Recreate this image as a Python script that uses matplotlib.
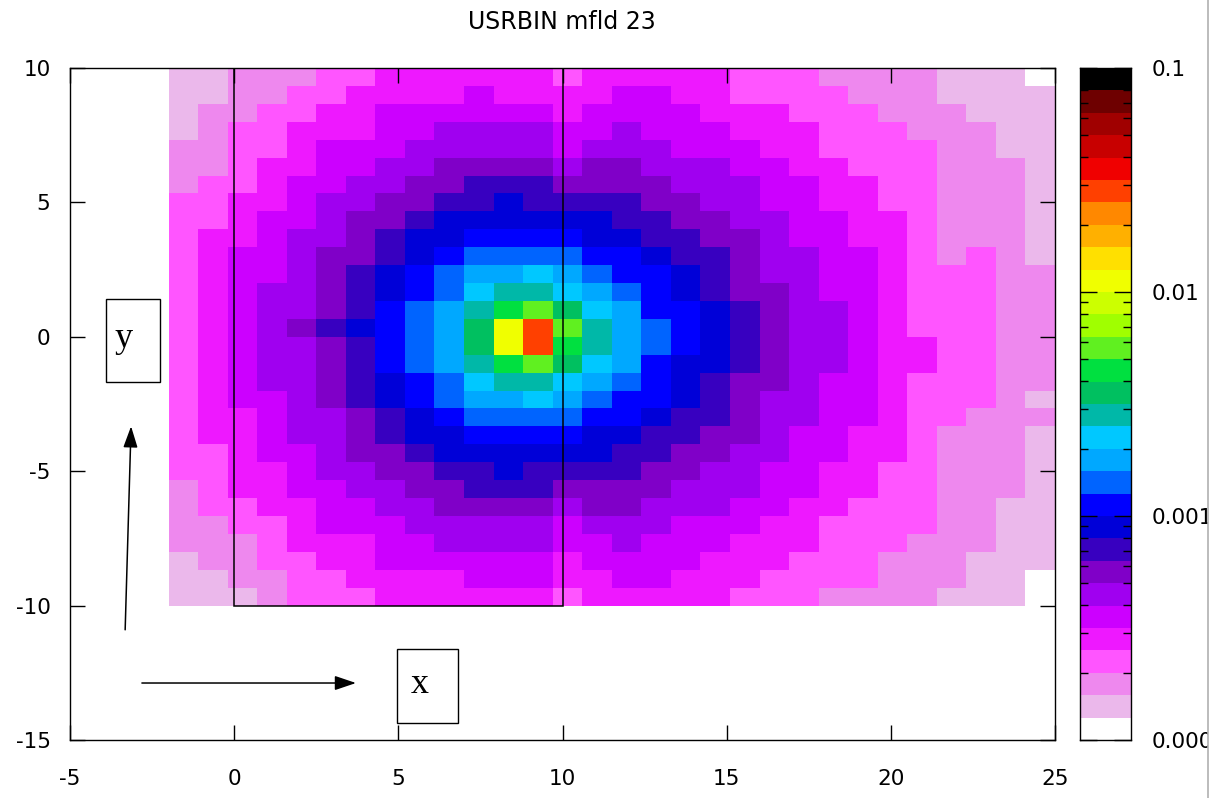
import numpy as np
import matplotlib
matplotlib.use("Agg")
import matplotlib.pyplot as plt
from matplotlib.colors import ListedColormap, BoundaryNorm
from matplotlib.patches import Rectangle
from matplotlib.lines import Line2D
from matplotlib.ticker import LogLocator, FixedLocator, NullFormatter

plt.rcParams['font.family'] = 'DejaVu Sans'
plt.rcParams['axes.unicode_minus'] = False

# USRBIN binning (cm)
x_lo, x_hi, nx = -2.0, 25.0, 30
y_lo, y_hi, ny = -10.0, 10.0, 30

# colour band of each bin, 0 = below scale; rows run from y=+10 down to y=-10
level = [
    [1,1,2,2,2,3,3,4,4,4, 4,4,4,3,4,4,4,4,4,3, 3,3,2,2,2,2,1,1,1,0],
    [1,1,2,2,3,3,4,4,4,4, 5,4,4,4,4,5,5,4,4,3, 3,3,3,2,2,2,1,1,1,1],
    [1,2,2,3,3,4,4,5,5,5, 5,5,5,4,5,5,5,5,4,4, 4,3,3,3,2,2,2,1,1,1],
    [1,2,3,3,4,4,4,5,5,6, 6,6,6,5,5,6,5,5,5,4, 4,4,3,3,3,2,2,2,1,1],
    [2,2,3,3,4,5,5,5,6,6, 6,6,6,5,6,6,6,5,5,5, 4,4,3,3,3,3,2,2,1,1],
    [2,2,3,4,4,5,5,6,6,7, 7,7,7,6,7,7,6,6,6,5, 5,4,4,3,3,3,2,2,2,1],
    [2,3,3,4,5,5,6,6,7,7, 8,8,8,7,7,7,7,6,6,6, 5,5,4,4,3,3,2,2,2,1],
    [3,3,4,4,5,6,6,7,7,8, 8,9,8,8,8,8,7,7,6,6, 5,5,4,4,3,3,2,2,2,1],
    [3,3,4,5,5,6,7,7,8,9, 9,9,9,9,9,8,8,7,7,6, 6,5,5,4,4,3,2,2,2,1],
    [3,4,4,5,6,6,7,8,9,9, 10,10,10,10,9,9,8,8,7,7, 6,5,5,4,4,3,2,2,2,1],
    [3,4,5,5,6,7,7,8,9,10, 11,11,11,11,10,10,9,8,8,7, 6,6,5,5,4,3,2,3,2,1],
    [3,4,5,5,6,7,8,9,10,11, 12,12,13,12,11,10,10,9,8,7, 6,6,5,5,4,3,3,3,2,2],
    [3,4,5,6,6,7,8,9,10,11, 13,14,14,13,12,11,10,9,8,7, 7,6,5,5,4,3,3,3,2,2],
    [3,4,5,6,6,7,8,10,11,12, 14,16,17,15,13,12,10,10,9,8, 7,6,6,5,4,3,3,3,2,2],
    [3,4,5,6,7,8,9,10,11,12, 15,20,24,17,14,12,11,10,9,8, 7,6,6,5,4,3,3,3,2,2],
    [3,4,5,6,6,7,8,10,11,12, 15,20,24,16,14,12,11,10,9,8, 7,6,6,5,4,4,3,3,2,2],
    [3,4,5,6,6,7,8,10,11,12, 14,16,17,15,13,12,10,9,9,8, 7,6,6,5,4,4,3,3,2,2],
    [3,4,5,6,6,7,8,9,10,11, 13,14,14,13,12,11,10,9,8,7, 7,6,5,5,4,3,3,3,2,2],
    [3,4,5,5,6,7,8,9,10,11, 12,12,13,12,11,10,10,9,8,7, 6,6,5,5,4,3,3,3,2,1],
    [3,4,4,5,6,6,7,8,9,10, 11,11,11,11,10,10,9,8,8,7, 6,6,5,5,4,3,3,2,2,2],
    [3,4,4,5,6,6,7,8,9,9, 10,10,10,10,9,9,8,8,7,7, 6,5,5,4,4,3,2,2,2,1],
    [3,3,4,5,5,6,7,7,8,9, 9,9,9,9,9,8,8,7,7,6, 6,5,5,4,4,3,2,2,2,1],
    [3,3,4,4,5,6,6,7,7,8, 8,9,8,8,8,8,7,7,6,6, 5,5,4,4,3,3,2,2,2,1],
    [2,3,4,4,5,5,6,6,7,7, 8,8,8,7,7,7,7,6,6,6, 5,5,4,4,3,3,2,2,2,1],
    [2,3,3,4,4,5,5,6,6,7, 7,7,7,6,7,7,6,6,6,5, 5,4,4,3,3,3,2,2,1,1],
    [2,2,3,3,4,5,5,5,6,6, 6,6,6,5,6,6,6,5,5,5, 4,4,3,3,3,3,2,2,1,1],
    [2,2,2,3,4,4,4,5,5,6, 6,6,6,5,5,6,5,5,5,4, 4,4,3,3,3,2,2,2,1,1],
    [1,2,2,3,3,4,4,5,5,5, 5,5,5,4,5,5,5,5,4,4, 4,3,3,3,2,2,2,1,1,1],
    [1,1,2,2,3,3,4,4,4,4, 5,5,5,4,4,5,5,4,4,4, 3,3,3,3,2,2,2,1,1,0],
    [1,1,1,2,3,3,3,4,4,4, 4,4,4,3,4,4,4,4,4,3, 3,3,2,2,2,2,1,1,1,0],
]

# flair-like palette, 10 bands per decade from 1e-4 to 1e-1
palette = ['#ffffff', '#ebb8eb', '#ee88ee', '#ff55ff', '#ee18ff', '#cc00ff',
           '#a000f0', '#8000c8', '#3800c0', '#0000d8', '#0000ff', '#0064ff',
           '#00a8ff', '#00c8ff', '#00b8a8', '#00c060', '#00e040', '#60f020',
           '#a0ff00', '#ccff00', '#f0ff00', '#ffe000', '#ffb000', '#ff8800',
           '#ff4000', '#f00000', '#c80000', '#a00000', '#6e0000', '#000000']
decade_lo, decade_hi = -4, -1
cbar_ticks = [1e-4, 1e-3, 1e-2, 1e-1]
cbar_labels = ['0.0001', '0.001', '0.01', '0.1']

title = 'USRBIN mfld 23'

# target outline and axis sketch
box_x0, box_x1, box_y0, box_y1 = 0.0, 10.0, -10.0, 10.0
ylab_box = (-3.90, -1.68, 1.64, 3.09)   # x, y, width, height
xlab_box = (4.96, -14.37, 1.86, 2.76)
yarrow = ((-3.32, -10.9), (-3.14, -3.33))
xarrow = ((-2.81, -12.88), (3.71, -12.88))

nband = len(palette)
bounds = np.logspace(decade_lo, decade_hi, nband + 1)
cmap = ListedColormap(palette)
norm = BoundaryNorm(bounds, nband)

# bin value taken at the centre of its colour band
lv = np.array(level, dtype=float)
dose = 10.0 ** (decade_lo + (lv + 0.5) * (decade_hi - decade_lo) / nband)

xe = np.linspace(x_lo, x_hi, nx + 1)
ye = np.linspace(y_hi, y_lo, ny + 1)

fig = plt.figure(figsize=(12.14, 7.98), dpi=100)
ax = fig.add_axes([70 / 1214, 58 / 798, 985 / 1214, 672 / 798])
ax.pcolormesh(xe, ye, dose, cmap=cmap, norm=norm, shading='flat')

ax.add_patch(Rectangle((box_x0, box_y0), box_x1 - box_x0, box_y1 - box_y0,
                       fill=False, edgecolor='black', lw=1.1, zorder=3))

for bx, by, bw, bh in (ylab_box, xlab_box):
    ax.add_patch(Rectangle((bx, by), bw, bh, facecolor='white',
                           edgecolor='black', lw=1.0, zorder=4))
ax.text(ylab_box[0] + 0.32 * ylab_box[2], ylab_box[1] + 0.52 * ylab_box[3], 'y',
        family='Liberation Serif', fontsize=26, ha='center', va='center', zorder=5)
ax.text(xlab_box[0] + 0.38 * xlab_box[2], xlab_box[1] + 0.52 * xlab_box[3], 'x',
        family='Liberation Serif', fontsize=26, ha='center', va='center', zorder=5)

for (x0, y0), (x1, y1) in (yarrow, xarrow):
    ax.annotate('', xy=(x1, y1), xytext=(x0, y0),
                arrowprops=dict(arrowstyle='-|>,head_length=0.65,head_width=0.22',
                                mutation_scale=20, color='black', lw=1.1,
                                shrinkA=0, shrinkB=0), zorder=5)

ax.set_xlim(-5, 25)
ax.set_ylim(-15, 10)
ax.set_xticks(np.arange(-5, 26, 5))
ax.set_yticks(np.arange(-15, 11, 5))
ax.tick_params(direction='in', top=True, right=True, length=11, width=1.0,
               labelsize=15.5, colors='black')
ax.tick_params(axis='x', pad=21)
ax.tick_params(axis='y', pad=14)
for s in ax.spines.values():
    s.set_linewidth(1.0)

# colour scale
cax = fig.add_axes([1080 / 1214, 58 / 798, 51 / 1214, 672 / 798])
mids = np.sqrt(bounds[:-1] * bounds[1:])
cax.pcolormesh([0, 1], bounds, mids.reshape(-1, 1), cmap=cmap, norm=norm)
cax.set_yscale('log')
cax.set_ylim(bounds[0], bounds[-1])
cax.set_xlim(0, 1)
cax.set_xticks([])
cax.yaxis.set_major_locator(FixedLocator(cbar_ticks))
cax.set_yticklabels(cbar_labels)
cax.yaxis.set_minor_locator(LogLocator(base=10, subs=np.arange(2, 10)))
cax.yaxis.set_minor_formatter(NullFormatter())
cax.tick_params(axis='y', which='both', direction='in', left=True, right=True,
                labelleft=False, labelright=True, labelsize=15.5, pad=15)
cax.tick_params(axis='y', which='major', length=12, width=1.0)
cax.tick_params(axis='y', which='minor', length=6, width=1.0)
for s in cax.spines.values():
    s.set_linewidth(1.0)

fig.text(562 / 1214, 1 - 22 / 798, title, ha='center', va='center', fontsize=17)

# window edge on the right
fig.add_artist(Rectangle((1208 / 1214, 0), 6 / 1214, 1, transform=fig.transFigure,
                         facecolor='white', edgecolor='none', zorder=10))
fig.add_artist(Line2D([1208 / 1214, 1208 / 1214], [0, 1], transform=fig.transFigure,
                      color='#b0b0b0', lw=1.2, zorder=11))

fig.savefig('out.png', dpi=100)
